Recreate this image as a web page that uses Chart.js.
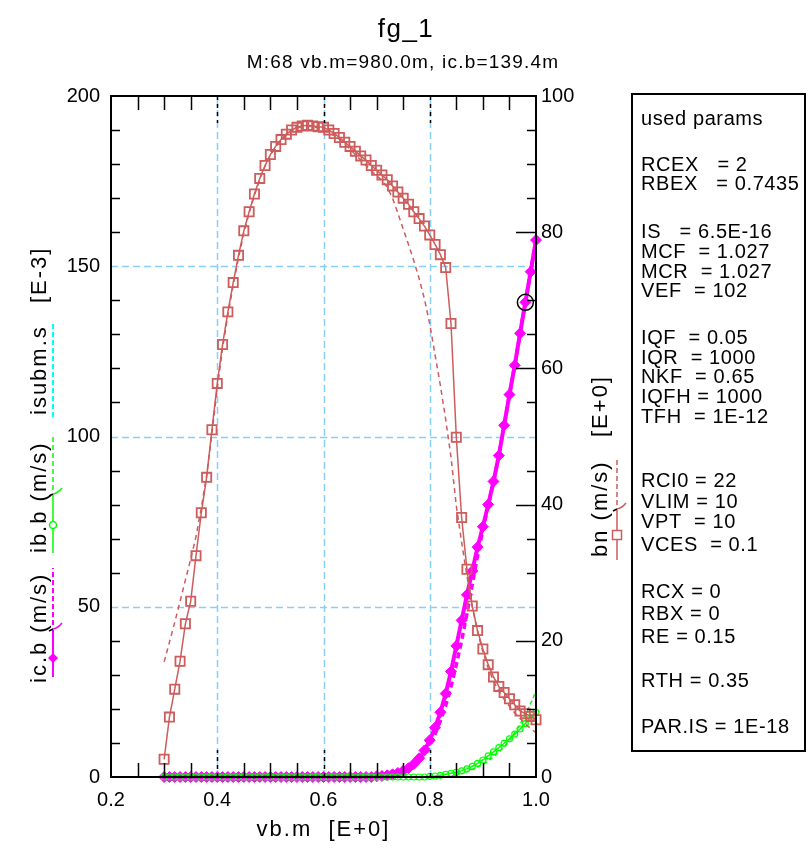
<!DOCTYPE html>
<html>
<head>
<meta charset="utf-8">
<title>fg_1</title>
<script src="https://cdn.jsdelivr.net/npm/chart.js@4/dist/chart.umd.min.js"></script>
<style>
  html, body { margin: 0; padding: 0; background: #fff; }
  #wrap { position: relative; width: 810px; height: 848px; }
</style>
</head>
<body>
<div id="wrap"><canvas id="fg1" width="810" height="848"></canvas></div>
<script>
// fg_1 - bn (right axis) and ic.b / ib.b / isubm.s (left axis, E-3) over vb.m

const vbm = [
  0.30, 0.31, 0.32, 0.33, 0.34, 0.35, 0.36, 0.37, 0.38, 0.39,
  0.40, 0.41, 0.42, 0.43, 0.44, 0.45, 0.46, 0.47, 0.48, 0.49,
  0.50, 0.51, 0.52, 0.53, 0.54, 0.55, 0.56, 0.57, 0.58, 0.59,
  0.60, 0.61, 0.62, 0.63, 0.64, 0.65, 0.66, 0.67, 0.68, 0.69,
  0.70, 0.71, 0.72, 0.73, 0.74, 0.75, 0.76, 0.77, 0.78, 0.79,
  0.80, 0.81, 0.82, 0.83, 0.84, 0.85, 0.86, 0.87, 0.88, 0.89,
  0.90, 0.91, 0.92, 0.93, 0.94, 0.95, 0.96, 0.97, 0.98, 0.99,
  1.00
];

// bn (m/s), simulated (solid, squares) and reference (dashed)
const bnSim = [
  2.6, 8.8, 12.9, 17.0, 22.5, 25.8, 32.5, 38.8, 44.0, 51.0,
  57.8, 63.5, 68.3, 72.6, 76.6, 80.2, 83.0, 85.6, 87.9, 89.8,
  91.4, 92.6, 93.6, 94.4, 95.0, 95.4, 95.6, 95.7, 95.6, 95.5,
  95.4, 95.0, 94.5, 93.9, 93.2, 92.6, 91.9, 91.2, 90.6, 89.8,
  89.1, 88.4, 87.7, 86.8, 85.9, 85.0, 84.1, 83.0, 82.0, 80.9,
  79.6, 78.2, 76.7, 74.8, 66.6, 49.9, 38.1, 30.5, 25.1, 21.5,
  18.8, 16.5, 14.7, 13.3, 12.4, 11.5, 10.6, 9.7, 9.3, 8.9,
  8.4
];
const bnRef = [
  16.9, 19.8, 22.7, 25.8, 28.9, 32.0, 35.3, 39.5, 44.3, 50.5,
  57.0, 63.0, 67.8, 72.2, 76.2, 79.9, 82.8, 85.4, 87.8, 89.7,
  91.3, 92.5, 93.5, 94.3, 94.9, 95.3, 95.5, 95.6, 95.5, 95.3,
  95.1, 94.7, 94.2, 93.6, 92.9, 92.2, 91.4, 90.6, 89.8, 89.0,
  88.3, 87.6, 86.6, 85.0, 82.8, 80.5, 78.2, 75.8, 73.2, 70.2,
  66.5, 62.0, 57.5, 52.5, 47.0, 39.8, 34.5, 29.5, 25.0, 21.3,
  18.4, 16.0, 14.1, 12.6, 11.4, 10.4, 9.4, 8.6, 7.8, 7.1,
  6.5
];

// ic.b (m/s) [E-3]
const icb = [
  0, 0, 0, 0, 0, 0, 0, 0, 0, 0,
  0, 0, 0, 0, 0, 0, 0, 0, 0, 0,
  0, 0, 0, 0, 0, 0, 0, 0, 0, 0,
  0, 0, 0, 0, 0, 0, 0, 0, 0, 0,
  0.2, 0.3, 0.5, 0.8, 1.2, 1.8, 2.6, 3.8, 5.5, 7.8,
  10.8, 14.5, 19.0, 24.5, 31.0, 38.5, 46.0, 53.5, 60.5, 67.5,
  73.5, 80.0, 86.8, 94.4, 103.3, 112.3, 120.9, 130.3, 139.4, 148.4,
  157.7
];
const icbRef = [
  0, 0, 0, 0, 0, 0, 0, 0, 0, 0,
  0, 0, 0, 0, 0, 0, 0, 0, 0, 0,
  0, 0, 0, 0, 0, 0, 0, 0, 0, 0,
  0, 0, 0, 0, 0, 0, 0, 0, 0, 0,
  0.1, 0.2, 0.4, 0.6, 0.9, 1.4, 2.1, 3.1, 4.6, 6.6,
  9.3, 12.6, 16.5, 21.0, 26.5, 33.0, 40.0, 48.0, 56.5, 65.0,
  72.5, 79.6, 86.6, 94.3, 103.2, 112.3, 121.0, 130.4, 139.5, 148.6,
  157.9
];

// ib.b (m/s) [E-3]
const ibb = [
  0, 0, 0, 0, 0, 0, 0, 0, 0, 0,
  0, 0, 0, 0, 0, 0, 0, 0, 0, 0,
  0, 0, 0, 0, 0, 0, 0, 0, 0, 0,
  0, 0, 0, 0, 0, 0, 0, 0, 0, 0,
  0, 0, 0, 0, 0, 0, 0, 0, 0, 0,
  0.2, 0.3, 0.5, 0.8, 1.1, 1.4, 1.8, 2.4, 3.1, 4.0,
  5.0, 6.2, 7.4, 8.6, 9.9, 11.2, 12.6, 14.1, 15.7, 17.4,
  19.0
];
const ibbRef = [
  0, 0, 0, 0, 0, 0, 0, 0, 0, 0,
  0, 0, 0, 0, 0, 0, 0, 0, 0, 0,
  0, 0, 0, 0, 0, 0, 0, 0, 0, 0,
  0, 0, 0, 0, 0, 0, 0, 0, 0, 0,
  0, 0, 0, 0, 0, 0, 0, 0, 0, 0,
  0, 0, 0, 0, 0, 0.8, 1.2, 1.6, 2.2, 2.9,
  3.7, 4.7, 5.9, 7.3, 8.9, 10.8, 13.0, 15.5, 18.4, 21.6,
  25.2
];

// isubm.s [E-3]
const isubm = [
  0, 0, 0, 0, 0, 0, 0, 0, 0, 0,
  0, 0, 0, 0, 0, 0, 0, 0, 0, 0,
  0, 0, 0, 0, 0, 0, 0, 0, 0, 0,
  0, 0, 0, 0, 0, 0, 0, 0, 0, 0,
  0, 0, 0, 0, 0, 0, 0, 0, 0, 0,
  0, 0, 0, 0, 0, 0, 0, 0, 0, 0,
  0, 0, 0, 0, 0, 0, 0, 0, 0, 0,
  0
];

// cursor M:68
const markVb = [0.98];
const markIc = [139.4];

const xTicks = [0.2, 0.4, 0.6, 0.8, 1.0];
const xTickLabels = ['0.2', '0.4', '0.6', '0.8', '1.0'];
const leftTicks = [0, 50, 100, 150, 200];
const rightTicks = [0, 20, 40, 60, 80, 100];

const titleText = 'fg_1';
const subTitleText = 'M:68 vb.m=980.0m, ic.b=139.4m';
const xTitle = 'vb.m  [E+0]';

const paramLines = [
  'used params',
  'RCEX   = 2', 'RBEX   = 0.7435',
  'IS   = 6.5E-16', 'MCF  = 1.027', 'MCR  = 1.027', 'VEF  = 102',
  'IQF  = 0.05', 'IQR  = 1000', 'NKF  = 0.65', 'IQFH = 1000', 'TFH  = 1E-12',
  'RCI0 = 22', 'VLIM = 10', 'VPT  = 10', 'VCES  = 0.1',
  'RCX = 0', 'RBX = 0', 'RE = 0.15',
  'RTH = 0.35',
  'PAR.IS = 1E-18'
];
const paramY = [119, 165, 184, 232, 252, 272, 291, 338, 358, 377, 397, 417,
                481, 502, 522, 545, 592, 614, 637, 681, 727];

const RED = 'rgb(205,92,92)';
const MAG = '#ff00ff';
const GRN = '#00ff00';
const CYN = '#00ffff';
const GRID = '#87cefa';
const FONT = '"Liberation Sans", Arial, sans-serif';

const pts = ys => vbm.map((v, i) => ({ x: v, y: ys[i] }));

function setSpacing(ctx, px) {
  if ('letterSpacing' in ctx) ctx.letterSpacing = px + 'px';
}

function vText(ctx, str, x, yStart) {
  ctx.save();
  ctx.translate(x, yStart);
  ctx.rotate(-Math.PI / 2);
  ctx.textAlign = 'left';
  ctx.textBaseline = 'alphabetic';
  ctx.fillText(str, 0, 0);
  ctx.restore();
}

// little "break" hook between solid and dashed part of a legend sample
function breakMark(ctx, x, y, color) {
  ctx.save();
  ctx.setLineDash([]);
  ctx.lineWidth = 1.5;
  ctx.strokeStyle = '#000';
  ctx.beginPath(); ctx.moveTo(x - 4, y + 1); ctx.lineTo(x, y - 1); ctx.stroke();
  ctx.strokeStyle = color;
  ctx.beginPath(); ctx.moveTo(x, y - 1); ctx.quadraticCurveTo(x + 5, y - 2, x + 9, y - 7); ctx.stroke();
  ctx.restore();
}

function sample(ctx, x, s) {
  ctx.save();
  ctx.strokeStyle = s.color;
  ctx.lineWidth = s.width;
  if (s.solid) {
    ctx.setLineDash([]);
    ctx.beginPath(); ctx.moveTo(x, s.solid[0]); ctx.lineTo(x, s.solid[1]); ctx.stroke();
  }
  if (s.dashed) {
    ctx.setLineDash([5, 3]);
    ctx.beginPath(); ctx.moveTo(x, s.dashed[0]); ctx.lineTo(x, s.dashed[1]); ctx.stroke();
    ctx.setLineDash([]);
  }
  if (s.mark) s.mark(ctx, x, s.markY);
  if (s.brk) breakMark(ctx, x, s.brk, s.color);
  ctx.restore();
}

const decor = {
  id: 'decor',
  beforeDatasetsDraw(chart) {
    // dashed light-blue grid at the inner labelled ticks
    const { ctx, chartArea: a, scales } = chart;
    ctx.save();
    ctx.strokeStyle = GRID;
    ctx.lineWidth = 1.5;
    ctx.setLineDash([7, 4]);
    xTicks.slice(1, -1).forEach(v => {
      const px = Math.round(scales.x.getPixelForValue(v)) + 0.5;
      ctx.beginPath(); ctx.moveTo(px, a.bottom); ctx.lineTo(px, a.top); ctx.stroke();
    });
    leftTicks.slice(1, -1).forEach(v => {
      const py = Math.round(scales.y.getPixelForValue(v)) + 0.5;
      ctx.beginPath(); ctx.moveTo(a.left, py); ctx.lineTo(a.right, py); ctx.stroke();
    });
    ctx.restore();
  },
  afterDatasetsDraw(chart) {
    const { ctx, chartArea: a, scales } = chart;
    const sx = scales.x, sl = scales.y, sr = scales.y1;
    ctx.save();
    ctx.strokeStyle = '#000';
    ctx.lineWidth = 2;
    ctx.strokeRect(a.left, a.top, a.right - a.left, a.bottom - a.top);

    // inward tick marks
    ctx.lineWidth = 1.5;
    for (let v = 0.25; v < 0.99; v += 0.05) {
      const px = Math.round(sx.getPixelForValue(v)) + 0.5;
      const major = xTicks.some(t => Math.abs(t - v) < 1e-6);
      ctx.setLineDash(major ? [4, 4] : []);
      const len = major ? 27 : 14;
      ctx.beginPath();
      ctx.moveTo(px, a.bottom); ctx.lineTo(px, a.bottom - len);
      ctx.moveTo(px, a.top); ctx.lineTo(px, a.top + len);
      ctx.stroke();
    }
    ctx.setLineDash([]);
    for (let v = 10; v < 200; v += 10) {
      if (v % 50 === 0) continue;
      const py = Math.round(sl.getPixelForValue(v)) + 0.5;
      ctx.beginPath(); ctx.moveTo(a.left, py); ctx.lineTo(a.left + 9, py); ctx.stroke();
    }
    for (let v = 5; v < 100; v += 5) {
      if (v % 25 === 0) continue;
      const py = Math.round(sr.getPixelForValue(v)) + 0.5;
      const len = v % 20 === 0 ? 20 : 9;
      ctx.beginPath(); ctx.moveTo(a.right, py); ctx.lineTo(a.right - len, py); ctx.stroke();
    }
    ctx.restore();
  },
  afterDraw(chart) {
    const { ctx, chartArea: a } = chart;
    ctx.save();
    ctx.fillStyle = '#000';

    // titles
    ctx.textAlign = 'center';
    ctx.textBaseline = 'alphabetic';
    setSpacing(ctx, 1.5);
    ctx.font = '26px ' + FONT;
    ctx.fillText(titleText, 406, 37);
    setSpacing(ctx, 1.2);
    ctx.font = '19px ' + FONT;
    ctx.fillText(subTitleText, 403, 68);
    setSpacing(ctx, 2);
    ctx.font = '22px ' + FONT;
    ctx.fillText(xTitle, (a.left + a.right) / 2, 836);

    // left axis title with inline samples
    vText(ctx, 'ic.b (m/s)', 46, 683);
    vText(ctx, 'ib.b (m/s)', 46, 553);
    vText(ctx, 'isubm.s', 46, 415);
    vText(ctx, '[E-3]', 46, 303);
    // right axis title
    vText(ctx, 'bn (m/s)', 607, 557);
    vText(ctx, '[E+0]', 607, 437);
    setSpacing(ctx, 0);

    sample(ctx, 53, {
      color: MAG, width: 2, solid: [677, 630], dashed: [625, 568], brk: 630, markY: 658,
      mark: (c, x, y) => {
        c.fillStyle = MAG;
        c.beginPath(); c.moveTo(x, y - 5); c.lineTo(x + 5, y); c.lineTo(x, y + 5); c.lineTo(x - 5, y); c.closePath(); c.fill();
      }
    });
    sample(ctx, 53, {
      color: GRN, width: 1.5, solid: [553, 495], dashed: [490, 435], brk: 495, markY: 525,
      mark: (c, x, y) => {
        c.fillStyle = '#fff';
        c.beginPath(); c.arc(x, y, 3.5, 0, Math.PI * 2); c.fill(); c.stroke();
      }
    });
    sample(ctx, 53, { color: CYN, width: 2, dashed: [417, 322] });
    sample(ctx, 617, {
      color: RED, width: 1.5, solid: [560, 510], dashed: [505, 457], brk: 510, markY: 535,
      mark: (c, x, y) => {
        c.fillStyle = '#fff';
        c.fillRect(x - 4.5, y - 4.5, 9, 9); c.strokeRect(x - 4.5, y - 4.5, 9, 9);
      }
    });

    // params box
    ctx.strokeStyle = '#000';
    ctx.lineWidth = 2;
    ctx.strokeRect(632, 94, 173, 657);
    ctx.fillStyle = '#000';
    ctx.textAlign = 'left';
    ctx.textBaseline = 'middle';
    ctx.font = '20px ' + FONT;
    setSpacing(ctx, 0.6);
    paramLines.forEach((t, i) => ctx.fillText(t, 641, paramY[i]));
    setSpacing(ctx, 0);
    ctx.restore();
  }
};

const tickFont = { family: FONT, size: 20 };

new Chart(document.getElementById('fg1'), {
  type: 'line',
  data: {
    datasets: [
      {
        label: 'M:68', data: markVb.map((v, i) => ({ x: v, y: markIc[i] })), yAxisID: 'y',
        showLine: false, pointStyle: 'circle', pointRadius: 8, pointBorderWidth: 1.5,
        pointBorderColor: '#000', pointBackgroundColor: 'rgba(0,0,0,0)', order: 0
      },
      {
        label: 'bn', data: pts(bnSim), yAxisID: 'y1', borderColor: RED, borderWidth: 1.5,
        pointStyle: 'rect', pointRadius: 6.5, pointBorderWidth: 1.8,
        pointBorderColor: RED, pointBackgroundColor: 'rgba(0,0,0,0)', order: 1
      },
      {
        label: 'bn ref', data: pts(bnRef), yAxisID: 'y1', borderColor: RED, borderWidth: 1.5,
        borderDash: [5, 4], pointRadius: 0, order: 2
      },
      {
        label: 'ib.b', data: pts(ibb), yAxisID: 'y', borderColor: GRN, borderWidth: 1.5,
        pointStyle: 'circle', pointRadius: 3, pointBorderWidth: 1.2,
        pointBorderColor: GRN, pointBackgroundColor: 'rgba(0,0,0,0)', order: 3
      },
      {
        label: 'ib.b ref', data: pts(ibbRef), yAxisID: 'y', borderColor: GRN, borderWidth: 1.5,
        borderDash: [4, 3], pointRadius: 0, order: 4
      },
      {
        label: 'ic.b', data: pts(icb), yAxisID: 'y', borderColor: MAG, borderWidth: 4,
        pointStyle: 'rectRot', pointRadius: 5.5, pointBorderWidth: 1,
        pointBorderColor: MAG, pointBackgroundColor: MAG, order: 5
      },
      {
        label: 'ic.b ref', data: pts(icbRef), yAxisID: 'y', borderColor: MAG, borderWidth: 3.5,
        borderDash: [6, 4], pointRadius: 0, order: 6
      },
      {
        label: 'isubm.s', data: pts(isubm), yAxisID: 'y', borderColor: CYN, borderWidth: 2,
        borderDash: [6, 3], pointRadius: 0, order: 7
      }
    ]
  },
  options: {
    responsive: false,
    animation: false,
    events: [],
    clip: false,
    layout: { padding: { left: 0, right: 214, top: 96, bottom: 0 } },
    elements: { line: { tension: 0, fill: false } },
    plugins: {
      legend: { display: false },
      tooltip: { enabled: false },
      title: { display: false }
    },
    scales: {
      x: {
        type: 'linear', position: 'bottom', min: 0.2, max: 1.0,
        afterBuildTicks: s => { s.ticks = xTicks.map(v => ({ value: v })); },
        afterFit: s => { s.height = 71; },
        ticks: {
          padding: 11, color: '#000', font: tickFont, maxRotation: 0, autoSkip: false,
          callback: (v, i) => xTickLabels[i]
        },
        grid: { display: false, drawTicks: false },
        border: { display: false }
      },
      y: {
        type: 'linear', position: 'left', min: 0, max: 200,
        afterBuildTicks: s => { s.ticks = leftTicks.map(v => ({ value: v })); },
        afterFit: s => { s.width = 111; },
        ticks: { padding: 11, color: '#000', font: tickFont, callback: v => String(v) },
        grid: { display: false, drawTicks: false },
        border: { display: false }
      },
      y1: {
        type: 'linear', position: 'right', min: 0, max: 100,
        afterBuildTicks: s => { s.ticks = rightTicks.map(v => ({ value: v })); },
        afterFit: s => { s.width = 60; },
        ticks: { padding: 5, color: '#000', font: tickFont, callback: v => String(v) },
        grid: { display: false, drawTicks: false },
        border: { display: false }
      }
    }
  },
  plugins: [decor]
});
</script>
</body>
</html>
